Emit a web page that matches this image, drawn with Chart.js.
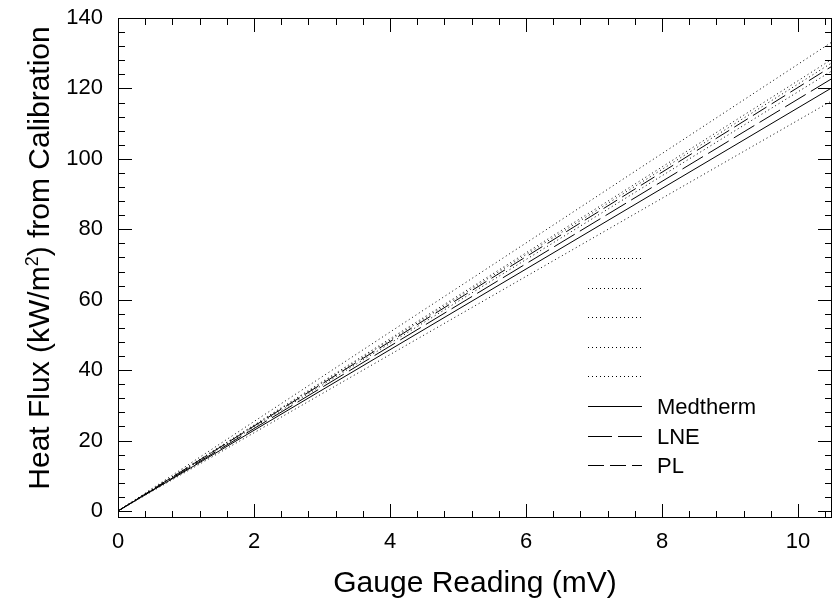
<!DOCTYPE html>
<html>
<head>
<meta charset="utf-8">
<script src="https://cdn.jsdelivr.net/npm/chart.js@4/dist/chart.umd.min.js"></script>
<style>
  html, body { margin: 0; padding: 0; background: #fff; }
  #wrap { width: 838px; height: 611px; }
</style>
</head>
<body>
<div id="wrap"><canvas id="c" width="838" height="611"></canvas></div>
<script>
// ---- data ----
const gaugeReading = [0, 2, 4, 6, 8, 10.5];          // mV
const medtherm     = [0, 22.9, 45.8, 68.7, 91.6, 120.2];
const lne          = [0, 23.4, 46.8, 70.2, 93.6, 122.8];
const pl           = [0, 24.1, 48.1, 72.2, 96.2, 126.3];
const bound1       = [0, 25.4, 50.8, 76.1, 101.5, 133.2];
const bound2       = [0, 24.4, 48.9, 73.3, 97.7, 128.3];
const bound3       = [0, 24.2, 48.5, 72.8, 97.0, 127.3];
const bound4       = [0, 23.8, 47.6, 71.4, 95.2, 125.0];
const bound5       = [0, 22.2, 44.4, 66.6, 88.8, 116.5];
const xTickLabels  = [0, 2, 4, 6, 8, 10];
const yTickLabels  = [0, 20, 40, 60, 80, 100, 120, 140];
const seriesNames  = ['', '', '', '', '', 'Medtherm', 'LNE', 'PL'];
const xTitle = 'Gauge Reading (mV)';
const yTitleParts = ['Heat Flux (kW/m', '2', ') from Calibration'];

const FONT = "'Liberation Sans', Arial, Helvetica, sans-serif";
const toXY = arr => arr.map((v, i) => ({ x: gaugeReading[i], y: v }));

const dotted = [1, 3];
const mk = (label, arr, dash) => ({
  label, data: toXY(arr), borderColor: '#000', borderWidth: 1,
  borderDash: dash, pointRadius: 0, fill: false, tension: 0
});

const datasets = [
  mk(seriesNames[0], bound1, dotted),
  mk(seriesNames[1], bound2, dotted),
  mk(seriesNames[2], bound3, dotted),
  mk(seriesNames[3], bound4, dotted),
  mk(seriesNames[4], bound5, dotted),
  mk(seriesNames[5], medtherm, []),
  mk(seriesNames[6], lne, [24, 6]),
  mk(seriesNames[7], pl, [16, 6]),
];

// frame + inward ticks on all four sides
const frameTicks = {
  id: 'frameTicks',
  afterDatasetsDraw(chart) {
    const { ctx, chartArea: a, scales: { x, y } } = chart;
    ctx.save();
    ctx.strokeStyle = '#000';
    ctx.lineWidth = 1;
    ctx.strokeRect(Math.round(a.left) + 0.5, Math.round(a.top) + 0.5,
                   Math.round(a.right - a.left) - 1, Math.round(a.bottom - a.top) - 1);
    const MAJ = 14, MIN = 7;
    ctx.beginPath();
    const xMinorStep = 0.4, xMajorStep = 2;
    for (let k = 0; k * xMinorStep <= x.max + 1e-9; k++) {
      const v = k * xMinorStep;
      const isMaj = Math.abs(v / xMajorStep - Math.round(v / xMajorStep)) < 1e-6;
      const len = isMaj ? MAJ : MIN;
      const px = Math.round(x.getPixelForValue(v)) + 0.5;
      ctx.moveTo(px, a.bottom); ctx.lineTo(px, a.bottom - len);
      ctx.moveTo(px, a.top); ctx.lineTo(px, a.top + len);
    }
    const yMinorStep = 4, yMajorStep = 20;
    for (let k = 0; k * yMinorStep <= y.max + 1e-9; k++) {
      const v = k * yMinorStep;
      const isMaj = v % yMajorStep === 0;
      const len = isMaj ? MAJ : MIN;
      const py = Math.round(y.getPixelForValue(v)) + 0.5;
      ctx.moveTo(a.left, py); ctx.lineTo(a.left + len, py);
      ctx.moveTo(a.right, py); ctx.lineTo(a.right - len, py);
    }
    ctx.stroke();
    ctx.restore();
  }
};

// y-axis title with a real superscript
const yTitlePlugin = {
  id: 'yTitlePlugin',
  afterDraw(chart) {
    const { ctx } = chart;
    const big = '30px ' + FONT, small = '18px ' + FONT;
    ctx.save();
    ctx.fillStyle = '#000';
    ctx.textBaseline = 'alphabetic';
    ctx.font = big;
    const w0 = ctx.measureText(yTitleParts[0]).width;
    const w2 = ctx.measureText(yTitleParts[2]).width;
    ctx.font = small;
    const w1 = ctx.measureText(yTitleParts[1]).width;
    const total = w0 + w1 + w2;
    ctx.translate(49, 258);
    ctx.rotate(-Math.PI / 2);
    let cx = -total / 2;
    ctx.font = big;
    ctx.fillText(yTitleParts[0], cx, 0); cx += w0;
    ctx.font = small;
    ctx.fillText(yTitleParts[1], cx, -11); cx += w1;
    ctx.font = big;
    ctx.fillText(yTitleParts[2], cx, 0);
    ctx.restore();
  }
};

// legend inside the plot area, drawn from the datasets
const innerLegend = {
  id: 'innerLegend',
  afterDatasetsDraw(chart) {
    const { ctx } = chart;
    const x0 = 588, x1 = 642, tx = 657, y0 = 258, dy = 29.6;
    ctx.save();
    ctx.font = '22px ' + FONT;
    ctx.fillStyle = '#000';
    ctx.textBaseline = 'middle';
    chart.data.datasets.forEach((ds, i) => {
      const yy = Math.round(y0 + i * dy) + 0.5;
      ctx.strokeStyle = ds.borderColor;
      ctx.lineWidth = ds.borderWidth;
      ctx.setLineDash(ds.borderDash || []);
      ctx.beginPath();
      ctx.moveTo(x0, yy); ctx.lineTo(x1, yy);
      ctx.stroke();
      ctx.setLineDash([]);
      if (ds.label) ctx.fillText(ds.label, tx, yy + 1);
    });
    ctx.restore();
  }
};

new Chart(document.getElementById('c'), {
  type: 'line',
  data: { datasets },
  options: {
    responsive: false,
    animation: false,
    devicePixelRatio: 1,
    layout: { autoPadding: false, padding: { left: 0, top: 18, right: 6, bottom: 0 } },
    plugins: { legend: { display: false }, tooltip: { enabled: false } },
    scales: {
      x: {
        type: 'linear', min: 0, max: 10.5,
        grid: { display: false, drawTicks: false }, border: { display: false },
        afterBuildTicks: s => { s.ticks = xTickLabels.map(v => ({ value: v })); },
        afterFit: s => { s.height = 93; s.paddingLeft = 0; s.paddingRight = 0; },
        ticks: { color: '#000', font: { family: FONT, size: 22 }, padding: 11, maxRotation: 0 },
        title: { display: true, text: xTitle, color: '#000',
                 font: { family: FONT, size: 30 }, padding: { top: 0, bottom: 9 } }
      },
      y: {
        type: 'linear', min: -2, max: 140,
        grid: { display: false, drawTicks: false }, border: { display: false },
        afterBuildTicks: s => { s.ticks = yTickLabels.map(v => ({ value: v })); },
        afterFit: s => { s.width = 118; s.paddingTop = 0; s.paddingBottom = 0; },
        ticks: { color: '#000', font: { family: FONT, size: 22 }, padding: 15 },
        title: { display: false }
      }
    }
  },
  plugins: [frameTicks, innerLegend, yTitlePlugin]
});
</script>
</body>
</html>
